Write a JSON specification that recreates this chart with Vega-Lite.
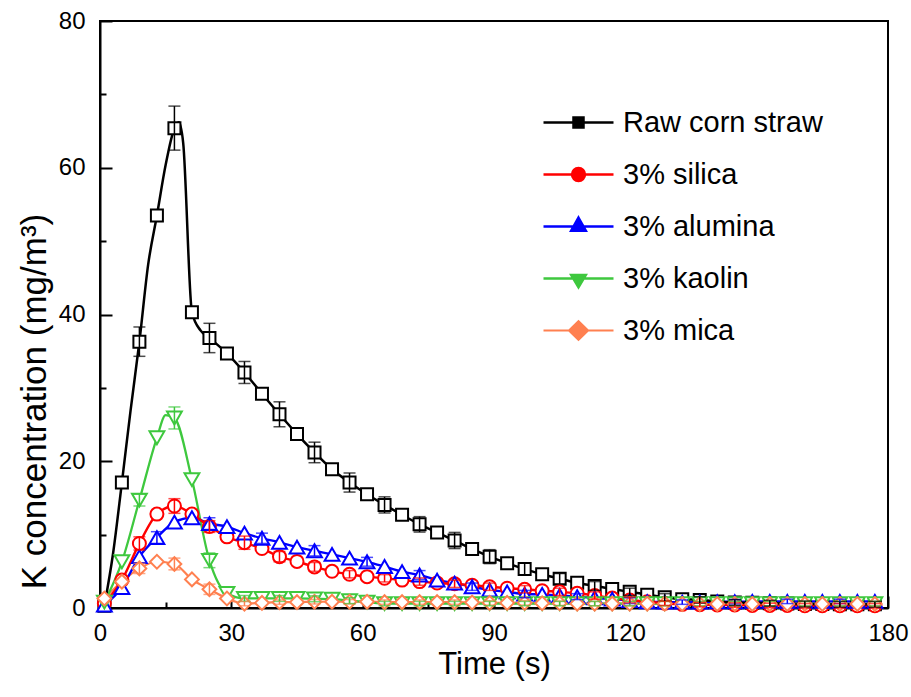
{
  "$schema": "https://vega.github.io/schema/vega-lite/v6.json",
  "width": 788,
  "height": 587,
  "autosize": {"type": "none"},
  "padding": {"left": 100, "top": 21, "right": 23, "bottom": 89},
  "background": "white",
  "config": {
    "font": "Liberation Sans",
    "view": {"stroke": "black", "strokeWidth": 2},
    "axis": {
      "grid": false,
      "domainColor": "black",
      "domainWidth": 2,
      "tickColor": "black",
      "tickWidth": 2,
      "labelColor": "black",
      "labelFont": "Liberation Sans",
      "labelFontSize": 24,
      "labelFlush": false,
      "titleFont": "Liberation Sans",
      "titleFontSize": 31,
      "titleFontWeight": "normal",
      "titleColor": "black"
    }
  },
  "data": {
    "values": [
      {"s": "3% mica", "t": 1, "v": 1.3},
      {"s": "3% mica", "t": 5, "v": 3.6},
      {"s": "3% mica", "t": 9, "v": 5.4, "e": 0.7},
      {"s": "3% mica", "t": 13, "v": 6.3},
      {"s": "3% mica", "t": 17, "v": 6.0, "e": 0.8},
      {"s": "3% mica", "t": 21, "v": 3.9},
      {"s": "3% mica", "t": 25, "v": 2.55, "e": 0.7},
      {"s": "3% mica", "t": 29, "v": 1.3},
      {"s": "3% mica", "t": 33, "v": 0.6, "e": 0.3},
      {"s": "3% mica", "t": 37, "v": 0.7},
      {"s": "3% mica", "t": 41, "v": 0.8, "e": 0.3},
      {"s": "3% mica", "t": 45, "v": 0.8},
      {"s": "3% mica", "t": 49, "v": 0.85, "e": 0.3},
      {"s": "3% mica", "t": 53, "v": 0.85},
      {"s": "3% mica", "t": 57, "v": 0.85, "e": 0.3},
      {"s": "3% mica", "t": 61, "v": 0.85},
      {"s": "3% mica", "t": 65, "v": 0.8, "e": 0.3},
      {"s": "3% mica", "t": 69, "v": 0.8},
      {"s": "3% mica", "t": 73, "v": 0.8, "e": 0.3},
      {"s": "3% mica", "t": 77, "v": 0.8},
      {"s": "3% mica", "t": 81, "v": 0.8, "e": 0.3},
      {"s": "3% mica", "t": 85, "v": 0.75},
      {"s": "3% mica", "t": 89, "v": 0.7, "e": 0.3},
      {"s": "3% mica", "t": 93, "v": 0.7},
      {"s": "3% mica", "t": 97, "v": 0.7, "e": 0.3},
      {"s": "3% mica", "t": 101, "v": 0.65},
      {"s": "3% mica", "t": 105, "v": 0.65, "e": 0.3},
      {"s": "3% mica", "t": 109, "v": 0.6},
      {"s": "3% mica", "t": 113, "v": 0.6, "e": 0.3},
      {"s": "3% mica", "t": 117, "v": 0.6},
      {"s": "3% mica", "t": 121, "v": 0.6, "e": 0.3},
      {"s": "3% mica", "t": 125, "v": 0.6},
      {"s": "3% mica", "t": 129, "v": 0.6, "e": 0.3},
      {"s": "3% mica", "t": 133, "v": 0.55},
      {"s": "3% mica", "t": 137, "v": 0.55, "e": 0.3},
      {"s": "3% mica", "t": 141, "v": 0.55},
      {"s": "3% mica", "t": 145, "v": 0.55, "e": 0.3},
      {"s": "3% mica", "t": 149, "v": 0.55},
      {"s": "3% mica", "t": 153, "v": 0.55, "e": 0.3},
      {"s": "3% mica", "t": 157, "v": 0.55},
      {"s": "3% mica", "t": 161, "v": 0.55, "e": 0.3},
      {"s": "3% mica", "t": 165, "v": 0.55},
      {"s": "3% mica", "t": 169, "v": 0.55, "e": 0.3},
      {"s": "3% mica", "t": 173, "v": 0.55},
      {"s": "3% mica", "t": 177, "v": 0.55, "e": 0.3},

      {"s": "3% kaolin", "t": 1, "v": 0.8},
      {"s": "3% kaolin", "t": 5, "v": 6.3},
      {"s": "3% kaolin", "t": 9, "v": 14.7, "e": 0.8},
      {"s": "3% kaolin", "t": 13, "v": 23.2},
      {"s": "3% kaolin", "t": 15, "v": 26.3},
      {"s": "3% kaolin", "t": 17, "v": 25.9, "e": 1.5},
      {"s": "3% kaolin", "t": 21, "v": 17.5},
      {"s": "3% kaolin", "t": 25, "v": 6.5, "e": 1.0},
      {"s": "3% kaolin", "t": 29, "v": 2.0},
      {"s": "3% kaolin", "t": 33, "v": 1.3, "e": 0.4},
      {"s": "3% kaolin", "t": 37, "v": 1.3},
      {"s": "3% kaolin", "t": 41, "v": 1.3, "e": 0.4},
      {"s": "3% kaolin", "t": 45, "v": 1.3},
      {"s": "3% kaolin", "t": 49, "v": 1.25, "e": 0.4},
      {"s": "3% kaolin", "t": 53, "v": 1.2},
      {"s": "3% kaolin", "t": 57, "v": 1.0, "e": 0.4},
      {"s": "3% kaolin", "t": 61, "v": 0.8},
      {"s": "3% kaolin", "t": 65, "v": 0.6, "e": 0.3},
      {"s": "3% kaolin", "t": 69, "v": 0.6},
      {"s": "3% kaolin", "t": 73, "v": 0.6, "e": 0.3},
      {"s": "3% kaolin", "t": 77, "v": 0.6},
      {"s": "3% kaolin", "t": 81, "v": 0.6, "e": 0.3},
      {"s": "3% kaolin", "t": 85, "v": 0.6},
      {"s": "3% kaolin", "t": 89, "v": 0.6, "e": 0.3},
      {"s": "3% kaolin", "t": 93, "v": 0.6},
      {"s": "3% kaolin", "t": 97, "v": 0.6, "e": 0.3},
      {"s": "3% kaolin", "t": 101, "v": 0.6},
      {"s": "3% kaolin", "t": 105, "v": 0.6, "e": 0.3},
      {"s": "3% kaolin", "t": 109, "v": 0.6},
      {"s": "3% kaolin", "t": 113, "v": 0.6, "e": 0.3},
      {"s": "3% kaolin", "t": 117, "v": 0.6},
      {"s": "3% kaolin", "t": 121, "v": 0.6, "e": 0.3},
      {"s": "3% kaolin", "t": 125, "v": 0.6},
      {"s": "3% kaolin", "t": 129, "v": 0.6, "e": 0.3},
      {"s": "3% kaolin", "t": 133, "v": 0.6},
      {"s": "3% kaolin", "t": 137, "v": 0.6, "e": 0.3},
      {"s": "3% kaolin", "t": 141, "v": 0.6},
      {"s": "3% kaolin", "t": 145, "v": 0.6, "e": 0.3},
      {"s": "3% kaolin", "t": 149, "v": 0.6},
      {"s": "3% kaolin", "t": 153, "v": 0.6, "e": 0.3},
      {"s": "3% kaolin", "t": 157, "v": 0.6},
      {"s": "3% kaolin", "t": 161, "v": 0.6, "e": 0.3},
      {"s": "3% kaolin", "t": 165, "v": 0.6},
      {"s": "3% kaolin", "t": 169, "v": 0.6, "e": 0.3},
      {"s": "3% kaolin", "t": 173, "v": 0.6},
      {"s": "3% kaolin", "t": 177, "v": 0.6, "e": 0.3},

      {"s": "3% alumina", "t": 1, "v": 0.4},
      {"s": "3% alumina", "t": 5, "v": 2.8},
      {"s": "3% alumina", "t": 9, "v": 7.0},
      {"s": "3% alumina", "t": 13, "v": 9.6, "e": 0.8},
      {"s": "3% alumina", "t": 17, "v": 11.7},
      {"s": "3% alumina", "t": 21, "v": 12.3},
      {"s": "3% alumina", "t": 25, "v": 11.5, "e": 0.8},
      {"s": "3% alumina", "t": 29, "v": 11.1},
      {"s": "3% alumina", "t": 33, "v": 10.2},
      {"s": "3% alumina", "t": 37, "v": 9.5, "e": 0.7},
      {"s": "3% alumina", "t": 41, "v": 8.95},
      {"s": "3% alumina", "t": 45, "v": 8.3},
      {"s": "3% alumina", "t": 49, "v": 7.8, "e": 0.7},
      {"s": "3% alumina", "t": 53, "v": 7.3},
      {"s": "3% alumina", "t": 57, "v": 6.8},
      {"s": "3% alumina", "t": 61, "v": 6.3, "e": 0.6},
      {"s": "3% alumina", "t": 65, "v": 5.65},
      {"s": "3% alumina", "t": 69, "v": 4.95},
      {"s": "3% alumina", "t": 73, "v": 4.5, "e": 0.6},
      {"s": "3% alumina", "t": 77, "v": 3.8},
      {"s": "3% alumina", "t": 81, "v": 3.4},
      {"s": "3% alumina", "t": 85, "v": 2.9, "e": 0.5},
      {"s": "3% alumina", "t": 89, "v": 2.45},
      {"s": "3% alumina", "t": 93, "v": 2.2},
      {"s": "3% alumina", "t": 97, "v": 1.9, "e": 0.5},
      {"s": "3% alumina", "t": 101, "v": 1.85},
      {"s": "3% alumina", "t": 105, "v": 1.7},
      {"s": "3% alumina", "t": 109, "v": 1.55, "e": 0.4},
      {"s": "3% alumina", "t": 113, "v": 1.4},
      {"s": "3% alumina", "t": 117, "v": 1.2},
      {"s": "3% alumina", "t": 121, "v": 1.0, "e": 0.4},
      {"s": "3% alumina", "t": 125, "v": 0.85},
      {"s": "3% alumina", "t": 129, "v": 0.8},
      {"s": "3% alumina", "t": 133, "v": 0.8, "e": 0.3},
      {"s": "3% alumina", "t": 137, "v": 0.8},
      {"s": "3% alumina", "t": 141, "v": 0.85},
      {"s": "3% alumina", "t": 145, "v": 0.85, "e": 0.3},
      {"s": "3% alumina", "t": 149, "v": 0.9},
      {"s": "3% alumina", "t": 153, "v": 0.9},
      {"s": "3% alumina", "t": 157, "v": 0.9, "e": 0.3},
      {"s": "3% alumina", "t": 161, "v": 0.9},
      {"s": "3% alumina", "t": 165, "v": 0.9},
      {"s": "3% alumina", "t": 169, "v": 0.9, "e": 0.3},
      {"s": "3% alumina", "t": 173, "v": 0.9},
      {"s": "3% alumina", "t": 177, "v": 0.9},

      {"s": "3% silica", "t": 1, "v": 0.6},
      {"s": "3% silica", "t": 5, "v": 3.8},
      {"s": "3% silica", "t": 9, "v": 8.8, "e": 0.9},
      {"s": "3% silica", "t": 13, "v": 12.8},
      {"s": "3% silica", "t": 17, "v": 13.9, "e": 1.0},
      {"s": "3% silica", "t": 21, "v": 12.8},
      {"s": "3% silica", "t": 25, "v": 11.1, "e": 0.8},
      {"s": "3% silica", "t": 29, "v": 9.7},
      {"s": "3% silica", "t": 33, "v": 8.9, "e": 0.9},
      {"s": "3% silica", "t": 37, "v": 8.1},
      {"s": "3% silica", "t": 41, "v": 7.0, "e": 0.7},
      {"s": "3% silica", "t": 45, "v": 6.35},
      {"s": "3% silica", "t": 49, "v": 5.6, "e": 0.6},
      {"s": "3% silica", "t": 53, "v": 5.0},
      {"s": "3% silica", "t": 57, "v": 4.6, "e": 0.5},
      {"s": "3% silica", "t": 61, "v": 4.27},
      {"s": "3% silica", "t": 65, "v": 4.05, "e": 0.5},
      {"s": "3% silica", "t": 69, "v": 3.8},
      {"s": "3% silica", "t": 73, "v": 3.6, "e": 0.5},
      {"s": "3% silica", "t": 77, "v": 3.4},
      {"s": "3% silica", "t": 81, "v": 3.3, "e": 0.5},
      {"s": "3% silica", "t": 85, "v": 3.1},
      {"s": "3% silica", "t": 89, "v": 2.9, "e": 0.5},
      {"s": "3% silica", "t": 93, "v": 2.7},
      {"s": "3% silica", "t": 97, "v": 2.55, "e": 0.5},
      {"s": "3% silica", "t": 101, "v": 2.35},
      {"s": "3% silica", "t": 105, "v": 2.2, "e": 0.5},
      {"s": "3% silica", "t": 109, "v": 2.0},
      {"s": "3% silica", "t": 113, "v": 1.7, "e": 0.5},
      {"s": "3% silica", "t": 117, "v": 1.35},
      {"s": "3% silica", "t": 121, "v": 1.1, "e": 0.4},
      {"s": "3% silica", "t": 125, "v": 0.85},
      {"s": "3% silica", "t": 129, "v": 0.65, "e": 0.3},
      {"s": "3% silica", "t": 133, "v": 0.5},
      {"s": "3% silica", "t": 137, "v": 0.45, "e": 0.3},
      {"s": "3% silica", "t": 141, "v": 0.4},
      {"s": "3% silica", "t": 145, "v": 0.4, "e": 0.3},
      {"s": "3% silica", "t": 149, "v": 0.35},
      {"s": "3% silica", "t": 153, "v": 0.35, "e": 0.3},
      {"s": "3% silica", "t": 157, "v": 0.35},
      {"s": "3% silica", "t": 161, "v": 0.3, "e": 0.3},
      {"s": "3% silica", "t": 165, "v": 0.3},
      {"s": "3% silica", "t": 169, "v": 0.3, "e": 0.3},
      {"s": "3% silica", "t": 173, "v": 0.3},
      {"s": "3% silica", "t": 177, "v": 0.3, "e": 0.3},

      {"s": "Raw corn straw", "t": 1, "v": 0.3},
      {"s": "Raw corn straw", "t": 3, "v": 7.5},
      {"s": "Raw corn straw", "t": 5, "v": 17.1},
      {"s": "Raw corn straw", "t": 7, "v": 27.0},
      {"s": "Raw corn straw", "t": 9, "v": 36.3, "e": 2.0},
      {"s": "Raw corn straw", "t": 11, "v": 46.8},
      {"s": "Raw corn straw", "t": 13, "v": 53.5},
      {"s": "Raw corn straw", "t": 15, "v": 60.4},
      {"s": "Raw corn straw", "t": 17, "v": 65.4, "e": 3.0},
      {"s": "Raw corn straw", "t": 18, "v": 66.2},
      {"s": "Raw corn straw", "t": 19, "v": 63.4},
      {"s": "Raw corn straw", "t": 21, "v": 40.3},
      {"s": "Raw corn straw", "t": 23, "v": 37.8},
      {"s": "Raw corn straw", "t": 25, "v": 36.8, "e": 2.0},
      {"s": "Raw corn straw", "t": 29, "v": 34.7},
      {"s": "Raw corn straw", "t": 33, "v": 32.1, "e": 1.5},
      {"s": "Raw corn straw", "t": 37, "v": 29.2},
      {"s": "Raw corn straw", "t": 41, "v": 26.4, "e": 1.7},
      {"s": "Raw corn straw", "t": 45, "v": 23.7},
      {"s": "Raw corn straw", "t": 49, "v": 21.2, "e": 1.4},
      {"s": "Raw corn straw", "t": 53, "v": 18.9},
      {"s": "Raw corn straw", "t": 57, "v": 17.1, "e": 1.3},
      {"s": "Raw corn straw", "t": 61, "v": 15.5},
      {"s": "Raw corn straw", "t": 65, "v": 14.05, "e": 1.1},
      {"s": "Raw corn straw", "t": 69, "v": 12.7},
      {"s": "Raw corn straw", "t": 73, "v": 11.4, "e": 1.05},
      {"s": "Raw corn straw", "t": 77, "v": 10.3},
      {"s": "Raw corn straw", "t": 81, "v": 9.2, "e": 1.1},
      {"s": "Raw corn straw", "t": 85, "v": 8.05},
      {"s": "Raw corn straw", "t": 89, "v": 7.0, "e": 0.95},
      {"s": "Raw corn straw", "t": 93, "v": 6.1},
      {"s": "Raw corn straw", "t": 97, "v": 5.3, "e": 0.8},
      {"s": "Raw corn straw", "t": 101, "v": 4.6},
      {"s": "Raw corn straw", "t": 105, "v": 4.0, "e": 0.7},
      {"s": "Raw corn straw", "t": 109, "v": 3.45},
      {"s": "Raw corn straw", "t": 113, "v": 3.0, "e": 0.6},
      {"s": "Raw corn straw", "t": 117, "v": 2.6},
      {"s": "Raw corn straw", "t": 121, "v": 2.2, "e": 0.5},
      {"s": "Raw corn straw", "t": 125, "v": 1.8},
      {"s": "Raw corn straw", "t": 129, "v": 1.45, "e": 0.5},
      {"s": "Raw corn straw", "t": 133, "v": 1.2},
      {"s": "Raw corn straw", "t": 137, "v": 1.1, "e": 0.45},
      {"s": "Raw corn straw", "t": 141, "v": 0.9},
      {"s": "Raw corn straw", "t": 145, "v": 0.75, "e": 0.4},
      {"s": "Raw corn straw", "t": 149, "v": 0.7},
      {"s": "Raw corn straw", "t": 153, "v": 0.65, "e": 0.4},
      {"s": "Raw corn straw", "t": 157, "v": 0.6},
      {"s": "Raw corn straw", "t": 161, "v": 0.55, "e": 0.4},
      {"s": "Raw corn straw", "t": 165, "v": 0.55},
      {"s": "Raw corn straw", "t": 169, "v": 0.5, "e": 0.4},
      {"s": "Raw corn straw", "t": 173, "v": 0.5},
      {"s": "Raw corn straw", "t": 177, "v": 0.5, "e": 0.4}
    ]
  },
  "layer": [
    {
      "mark": {"type": "point", "opacity": 0},
      "encoding": {
        "x": {"field": "t", "type": "quantitative", "scale": {"domain": [0, 180], "nice": false},
          "axis": {"orient": "bottom", "values": [15, 45, 75, 105, 135, 165], "labels": false, "domain": false, "tickSize": -6, "title": null}},
        "y": {"field": "v", "type": "quantitative", "scale": {"domain": [0, 80], "nice": false},
          "axis": {"orient": "left", "values": [10, 30, 50, 70], "labels": false, "domain": false, "tickSize": -6, "title": null}}
      }
    },
    {
      "mark": {"type": "line", "interpolate": "monotone"},
      "encoding": {
        "x": {"field": "t", "type": "quantitative", "scale": {"domain": [0, 180], "nice": false},
          "axis": {"orient": "bottom", "values": [0, 30, 60, 90, 120, 150, 180], "tickSize": -12, "labelPadding": 25, "title": "Time (s)", "titlePadding": 4}},
        "y": {"field": "v", "type": "quantitative", "scale": {"domain": [0, 80], "nice": false},
          "axis": {"orient": "left", "values": [0, 20, 40, 60, 80], "tickSize": -12, "labelPadding": 27, "title": "K concentration (mg/m³)", "titleFontSize": 35, "titleY": 380, "titlePadding": 6}},
        "color": {
          "field": "s", "type": "nominal",
          "scale": {"domain": ["Raw corn straw", "3% silica", "3% alumina", "3% kaolin", "3% mica"],
                    "range": ["#000000", "#FF0000", "#0000FF", "#3EC83E", "#FF8050"]},
          "legend": {
            "title": null,
            "orient": "none",
            "legendX": 442,
            "legendY": 65,
            "padding": 0,
            "rowPadding": -29,
            "symbolSize": 4900,
            "symbolStrokeWidth": 2,
            "symbolFillColor": "white",
            "symbolOpacity": 1,
            "symbolType": {"expr": "datum.value === 'Raw corn straw' ? 'M-1,0H-0.143M0.143,0H1M-0.143,-0.143H0.143V0.143H-0.143Z' : datum.value === '3% silica' ? 'M-1,0H-0.186M0.186,0H1M-0.186,0A0.186,0.186,0,1,1,0.186,0A0.186,0.186,0,1,1,-0.186,0Z' : datum.value === '3% alumina' ? 'M-1,0H-0.144M0.144,0H1M0,-0.257L0.214,0.126L-0.214,0.126Z' : datum.value === '3% kaolin' ? 'M-1,0H-0.153M0.153,0H1M-0.214,-0.103L0.214,-0.103L0,0.257Z' : 'M-1,0H-0.27M0.27,0H1M-0.27,0L0,-0.26L0.27,0L0,0.26Z'"},
            "labelOffset": 8,
            "labelFontSize": 29,
            "labelFont": "Liberation Sans",
            "labelColor": "black",
            "labelLimit": 400
          }
        },
        "strokeWidth": {
          "field": "s", "type": "nominal",
          "scale": {"domain": ["Raw corn straw", "3% silica", "3% alumina", "3% kaolin", "3% mica"], "range": [2.5, 2.2, 2.2, 1.8, 2.2]},
          "legend": null
        }
      }
    },
    {
      "transform": [{"filter": "datum.t % 4 == 1 && datum.s === 'Raw corn straw'"}],
      "mark": {"type": "point", "shape": "square", "size": 144, "filled": false, "fill": "white", "fillOpacity": 1, "strokeWidth": 2, "opacity": 1},
      "encoding": {
        "x": {"field": "t", "type": "quantitative", "axis": null},
        "y": {"field": "v", "type": "quantitative", "axis": null},
        "color": {"field": "s", "type": "nominal", "legend": null}
      }
    },
    {
      "transform": [{"filter": "datum.t % 4 == 1 && datum.s === '3% silica'"}],
      "mark": {"type": "point", "shape": "circle", "size": 169, "filled": false, "fill": "white", "fillOpacity": 1, "strokeWidth": 2, "opacity": 1},
      "encoding": {
        "x": {"field": "t", "type": "quantitative", "axis": null},
        "y": {"field": "v", "type": "quantitative", "axis": null},
        "color": {"field": "s", "type": "nominal", "legend": null}
      }
    },
    {
      "transform": [{"filter": "datum.t % 4 == 1 && datum.s === '3% alumina'"}],
      "mark": {"type": "point", "shape": "triangle-up", "size": 220, "filled": false, "fill": "white", "fillOpacity": 1, "strokeWidth": 2, "opacity": 1},
      "encoding": {
        "x": {"field": "t", "type": "quantitative", "axis": null},
        "y": {"field": "v", "type": "quantitative", "axis": null},
        "color": {"field": "s", "type": "nominal", "legend": null}
      }
    },
    {
      "transform": [{"filter": "datum.t % 4 == 1 && datum.s === '3% kaolin'"}],
      "mark": {"type": "point", "shape": "triangle-down", "size": 220, "filled": false, "fill": "white", "fillOpacity": 1, "strokeWidth": 2, "opacity": 1},
      "encoding": {
        "x": {"field": "t", "type": "quantitative", "axis": null},
        "y": {"field": "v", "type": "quantitative", "axis": null},
        "color": {"field": "s", "type": "nominal", "legend": null}
      }
    },
    {
      "transform": [{"filter": "datum.t % 4 == 1 && datum.s === '3% mica'"}],
      "mark": {"type": "point", "shape": "diamond", "size": 190, "filled": false, "fill": "white", "fillOpacity": 1, "strokeWidth": 2, "opacity": 1},
      "encoding": {
        "x": {"field": "t", "type": "quantitative", "axis": null},
        "y": {"field": "v", "type": "quantitative", "axis": null},
        "color": {"field": "s", "type": "nominal", "legend": null}
      }
    },
    {
      "transform": [{"filter": "isValid(datum.e)"}],
      "mark": {"type": "errorbar", "ticks": {"size": 12}, "thickness": 1.5},
      "encoding": {
        "x": {"field": "t", "type": "quantitative", "axis": null},
        "y": {"field": "v", "type": "quantitative", "axis": null},
        "yError": {"field": "e"},
        "color": {"field": "s", "type": "nominal", "legend": null}
      }
    }
  ],
  "resolve": {"axis": {"x": "independent", "y": "independent"}}
}
